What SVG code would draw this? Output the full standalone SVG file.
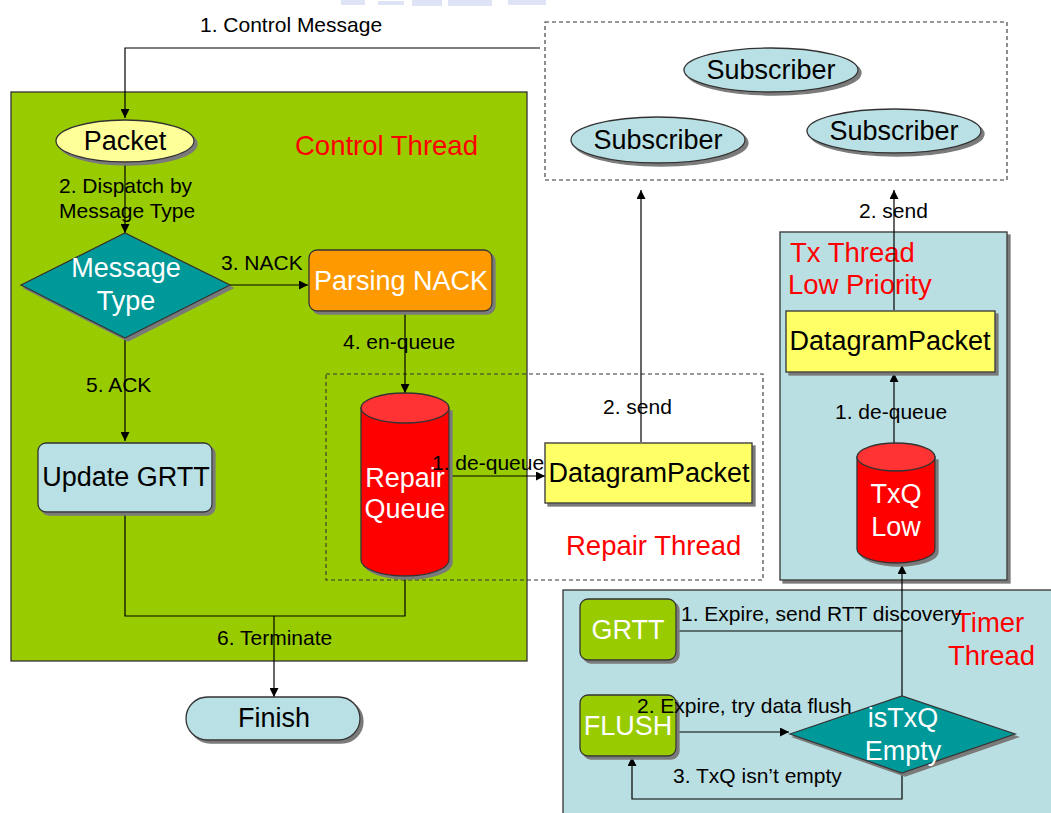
<svg xmlns="http://www.w3.org/2000/svg" width="1051" height="813" viewBox="0 0 1051 813">
  <style>
    text { font-family: "Liberation Sans", Arial, sans-serif; }
    .lbl { font-size: 21px; fill: #000; }
    .big { font-size: 27px; }
    .red { fill: #FF0000; font-size: 27.5px; }
    .wh { fill: #FFFFFF; }
    .bk { fill: #000000; }
    .edge { stroke: #333; stroke-width: 1.3; }
    .conn { fill: none; stroke: #000; stroke-width: 1.2; }
    .dash { fill: none; stroke: #333; stroke-width: 1.1; stroke-dasharray: 4 3; }
  </style>
  <defs>
    <marker id="arr" viewBox="0 0 10 10" refX="10" refY="5" markerWidth="9" markerHeight="9" markerUnits="userSpaceOnUse" orient="auto">
      <path d="M0,0 L10,5 L0,10 Z" fill="#000"/>
    </marker>
    <filter id="sh" x="-10%" y="-10%" width="130%" height="140%">
      <feOffset in="SourceAlpha" dx="3" dy="3" result="o"/>
      <feFlood flood-color="#7a7a7a"/>
      <feComposite in2="o" operator="in"/>
      <feMerge><feMergeNode/><feMergeNode in="SourceGraphic"/></feMerge>
    </filter>
  </defs>

  <rect width="1051" height="813" fill="#FFFFFF"/>

  <!-- faint banner strip at the top edge -->
  <g id="banner" fill="#B7C2EC" opacity="0.45">
    <rect x="341" y="0" width="24" height="5"/>
    <rect x="378" y="1" width="26" height="4"/>
    <rect x="412" y="0" width="30" height="6"/>
    <rect x="448" y="0" width="44" height="6"/>
    <rect x="508" y="0" width="38" height="5"/>
  </g>

  <!-- thread regions -->
  <g id="control-thread">
    <rect x="11" y="92" width="516" height="569" fill="#99CC00" stroke="#333" stroke-width="1.3"/>
    <text class="red" x="295" y="155">Control Thread</text>
  </g>
  <g id="subscribers-area">
    <rect class="dash" x="545" y="22" width="462" height="158"/>
  </g>
  <g id="repair-thread">
    <rect class="dash" x="326" y="374" width="437" height="206"/>
    <text class="red" x="566" y="555">Repair Thread</text>
  </g>
  <g id="tx-thread">
    <rect x="780" y="232" width="227" height="348" fill="#BADFE2" class="edge" filter="url(#sh)"/>
    <text class="red" x="790" y="262">Tx Thread</text>
    <text class="red" x="788" y="294">Low Priority</text>
  </g>
  <g id="timer-thread">
    <rect x="563" y="590" width="500" height="240" fill="#BADFE2" class="edge"/>
    <text class="red" x="955" y="632">Timer</text>
    <text class="red" x="948" y="665">Thread</text>
  </g>

  <!-- connectors -->
  <g id="connectors">
    <path class="conn" d="M540,48 H125 V118" marker-end="url(#arr)"/>
    <path class="conn" d="M125,162 V233" marker-end="url(#arr)"/>
    <path class="conn" d="M230,285 H308" marker-end="url(#arr)"/>
    <path class="conn" d="M125,337 V441" marker-end="url(#arr)"/>
    <path class="conn" d="M405,311 V393" marker-end="url(#arr)"/>
    <path class="conn" d="M447,476 H545" marker-end="url(#arr)"/>
    <path class="conn" d="M641,442 V190" marker-end="url(#arr)"/>
    <path class="conn" d="M894,310 V190" marker-end="url(#arr)"/>
    <path class="conn" d="M894,444 V373" marker-end="url(#arr)"/>
    <path class="conn" d="M125,512 V616 H405 V576"/>
    <path class="conn" d="M274,616 V697" marker-end="url(#arr)"/>
    <path class="conn" d="M676,631 H902"/>
    <path class="conn" d="M902,696 V565" marker-end="url(#arr)"/>
    <path class="conn" d="M676,732 H789" marker-end="url(#arr)"/>
    <path class="conn" d="M902,773 V799 H632 V757" marker-end="url(#arr)"/>
  </g>

  <!-- nodes -->
  <g id="packet">
    <ellipse cx="125" cy="141" rx="69" ry="21" fill="#FFFF99" class="edge" filter="url(#sh)"/>
    <text class="big bk" x="125" y="150" text-anchor="middle" font-size="26">Packet</text>
  </g>
  <g id="message-type">
    <polygon points="21,285 125,233 230,285 125,338" fill="#009999" class="edge" filter="url(#sh)"/>
    <text class="big wh" x="126" y="277" text-anchor="middle">Message</text>
    <text class="big wh" x="126" y="310" text-anchor="middle">Type</text>
  </g>
  <g id="parsing-nack">
    <rect x="309" y="250" width="183" height="61" rx="8" fill="#FF9900" class="edge" filter="url(#sh)"/>
    <text class="big wh" x="401" y="290" text-anchor="middle">Parsing NACK</text>
  </g>
  <g id="update-grtt">
    <rect x="38" y="443" width="174" height="69" rx="8" fill="#B9E0E4" class="edge" filter="url(#sh)"/>
    <text class="big bk" x="126" y="486" text-anchor="middle">Update GRTT</text>
  </g>
  <g id="repair-queue">
    <path d="M361,408 V560 A44,16 0 0 0 449,560 V408 Z" fill="#FF0000" class="edge" filter="url(#sh)"/>
    <ellipse cx="405" cy="408" rx="44" ry="15" fill="#FF3333" class="edge"/>
    <text class="big wh" x="405" y="487" text-anchor="middle">Repair</text>
    <text class="big wh" x="405" y="518" text-anchor="middle">Queue</text>
  </g>
  <g id="repair-datagram">
    <rect x="545" y="443" width="207" height="60" fill="#FFFF66" class="edge" filter="url(#sh)"/>
    <text class="big bk" x="649" y="482" text-anchor="middle">DatagramPacket</text>
  </g>
  <g id="subscriber-1">
    <ellipse cx="771" cy="70" rx="87" ry="22" fill="#B9E0E4" class="edge" filter="url(#sh)"/>
    <text class="big bk" x="771" y="79" text-anchor="middle" font-size="26">Subscriber</text>
  </g>
  <g id="subscriber-2">
    <ellipse cx="658" cy="140" rx="87" ry="23" fill="#B9E0E4" class="edge" filter="url(#sh)"/>
    <text class="big bk" x="658" y="149" text-anchor="middle" font-size="26">Subscriber</text>
  </g>
  <g id="subscriber-3">
    <ellipse cx="894" cy="131" rx="87" ry="22" fill="#B9E0E4" class="edge" filter="url(#sh)"/>
    <text class="big bk" x="894" y="140" text-anchor="middle" font-size="26">Subscriber</text>
  </g>
  <g id="tx-datagram">
    <rect x="786" y="311" width="209" height="61" fill="#FFFF66" class="edge" filter="url(#sh)"/>
    <text class="big bk" x="890" y="350" text-anchor="middle">DatagramPacket</text>
  </g>
  <g id="txq-low">
    <path d="M857,457 V549 A39,14 0 0 0 935,549 V457 Z" fill="#FF0000" class="edge" filter="url(#sh)"/>
    <ellipse cx="896" cy="457" rx="39" ry="14" fill="#FF3333" class="edge"/>
    <text class="big wh" x="896" y="503" text-anchor="middle">TxQ</text>
    <text class="big wh" x="896" y="536" text-anchor="middle">Low</text>
  </g>
  <g id="finish">
    <rect x="186" y="697" width="174" height="43" rx="21.5" fill="#B9E0E4" class="edge" filter="url(#sh)"/>
    <text class="big bk" x="274" y="727" text-anchor="middle">Finish</text>
  </g>
  <g id="grtt-timer">
    <rect x="580" y="599" width="96" height="61" rx="8" fill="#99CC00" class="edge" filter="url(#sh)"/>
    <text class="big wh" x="628" y="639" text-anchor="middle">GRTT</text>
  </g>
  <g id="flush-timer">
    <rect x="580" y="695" width="96" height="61" rx="8" fill="#99CC00" class="edge" filter="url(#sh)"/>
    <text class="big wh" x="628" y="735" text-anchor="middle">FLUSH</text>
  </g>
  <g id="is-txq-empty">
    <polygon points="790,734 902,696 1015,734 902,773" fill="#009999" class="edge" filter="url(#sh)"/>
    <text class="big wh" x="903" y="727" text-anchor="middle">isTxQ</text>
    <text class="big wh" x="903" y="760" text-anchor="middle">Empty</text>
  </g>

  <!-- connector labels, drawn above the nodes -->
  <g id="connector-labels">
    <text class="lbl" x="200" y="32">1. Control Message</text>
    <text class="lbl" x="59" y="193">2. Dispatch by</text>
    <text class="lbl" x="59" y="218">Message Type</text>
    <text class="lbl" x="221" y="270">3. NACK</text>
    <text class="lbl" x="343" y="349">4. en-queue</text>
    <text class="lbl" x="86" y="392">5. ACK</text>
    <text class="lbl" x="432" y="470">1. de-queue</text>
    <text class="lbl" x="603" y="414">2. send</text>
    <text class="lbl" x="859" y="218">2. send</text>
    <text class="lbl" x="835" y="419">1. de-queue</text>
    <text class="lbl" x="217" y="645">6. Terminate</text>
    <text class="lbl" x="681" y="621">1. Expire, send RTT discovery</text>
    <text class="lbl" x="637" y="713">2. Expire, try data flush</text>
    <text class="lbl" x="673" y="783">3. TxQ isn’t empty</text>
  </g>
</svg>
